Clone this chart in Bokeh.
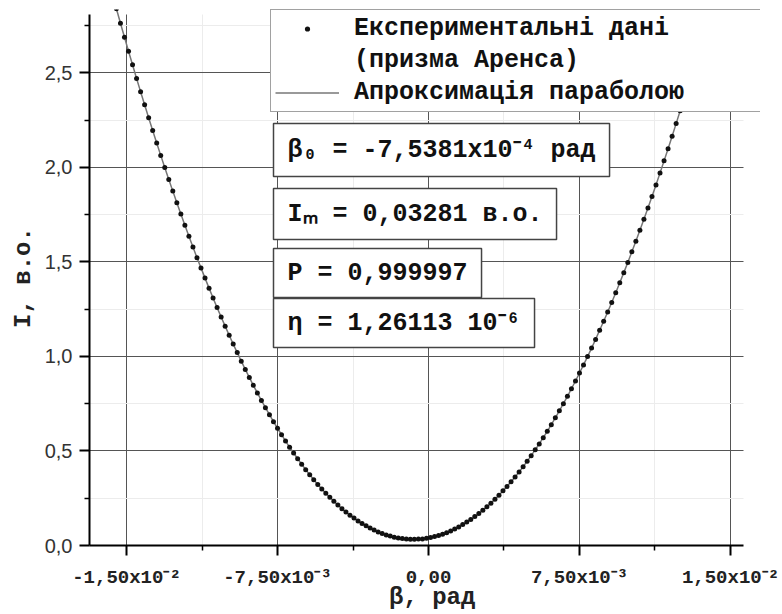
from bokeh.plotting import figure
from bokeh.models import Range1d, FixedTicker, Legend, LegendItem, Label, ColumnDataSource
from bokeh.embed import file_html
from bokeh.resources import INLINE

# ---- data ----
beta = [
    -0.0155, -0.0153, -0.0151, -0.0149, -0.0147, -0.0145, -0.0143, -0.0141, -0.0139, -0.0137,
    -0.0135, -0.0133, -0.0131, -0.0129, -0.0127, -0.0125, -0.0123, -0.0121, -0.0119, -0.0117,
    -0.0115, -0.0113, -0.0111, -0.0109, -0.0107, -0.0105, -0.0103, -0.0101, -0.0099, -0.0097,
    -0.0095, -0.0093, -0.0091, -0.0089, -0.0087, -0.0085, -0.0083, -0.0081, -0.0079, -0.0077,
    -0.0075, -0.0073, -0.0071, -0.0069, -0.0067, -0.0065, -0.0063, -0.0061, -0.0059, -0.0057,
    -0.0055, -0.0053, -0.0051, -0.0049, -0.0047, -0.0045, -0.0043, -0.0041, -0.0039, -0.0037,
    -0.0035, -0.0033, -0.0031, -0.0029, -0.0027, -0.0025, -0.0023, -0.0021, -0.0019, -0.0017,
    -0.0015, -0.0013, -0.0011, -0.0009,
    -0.0007, -0.0005, -0.0003, -0.0001, 0.0001, 0.0003, 0.0005, 0.0007, 0.0009, 0.0011,
    0.0013, 0.0015, 0.0017, 0.0019, 0.0021, 0.0023, 0.0025, 0.0027, 0.0029, 0.0031,
    0.0033, 0.0035, 0.0037, 0.0039, 0.0041, 0.0043, 0.0045, 0.0047, 0.0049, 0.0051,
    0.0053, 0.0055, 0.0057, 0.0059, 0.0061, 0.0063, 0.0065, 0.0067, 0.0069, 0.0071,
    0.0073, 0.0075, 0.0077, 0.0079, 0.0081, 0.0083, 0.0085, 0.0087, 0.0089, 0.0091,
    0.0093, 0.0095, 0.0097, 0.0099, 0.0101, 0.0103, 0.0105, 0.0107, 0.0109, 0.0111,
    0.0113, 0.0115, 0.0117, 0.0119, 0.0121, 0.0123, 0.0125, 0.0127, 0.0129,
]
intensity = [
    2.838, 2.762, 2.688, 2.614, 2.542, 2.470, 2.400, 2.331, 2.262, 2.195,
    2.129, 2.063, 1.999, 1.936, 1.874, 1.813, 1.753, 1.693, 1.635, 1.578,
    1.522, 1.468, 1.414, 1.361, 1.309, 1.258, 1.208, 1.160, 1.112, 1.065,
    1.020, 0.975, 0.931, 0.889, 0.847, 0.807, 0.767, 0.729, 0.692, 0.655,
    0.620, 0.586, 0.552, 0.520, 0.489, 0.459, 0.430, 0.401, 0.374, 0.348,
    0.323, 0.299, 0.276, 0.255, 0.234, 0.214, 0.195, 0.177, 0.160, 0.145,
    0.130, 0.116, 0.104, 0.092, 0.082, 0.072, 0.064, 0.056, 0.050, 0.044,
    0.040, 0.037, 0.034, 0.033,
    0.033, 0.034, 0.035, 0.038, 0.042, 0.047, 0.053, 0.060, 0.068, 0.077,
    0.087, 0.098, 0.111, 0.124, 0.138, 0.153, 0.169, 0.187, 0.205, 0.224,
    0.245, 0.266, 0.289, 0.312, 0.337, 0.362, 0.389, 0.417, 0.445, 0.475,
    0.506, 0.537, 0.570, 0.604, 0.639, 0.675, 0.712, 0.750, 0.789, 0.829,
    0.870, 0.912, 0.955, 0.999, 1.044, 1.090, 1.138, 1.186, 1.235, 1.285,
    1.337, 1.389, 1.443, 1.497, 1.553, 1.609, 1.667, 1.725, 1.785, 1.845,
    1.907, 1.970, 2.034, 2.098, 2.164, 2.231, 2.299, 2.368, 2.438,
]

x_ticks = [-0.015, -0.0075, 0.0, 0.0075, 0.015]
x_minor_ticks = [-0.01125, -0.00375, 0.00375, 0.01125]
x_tick_labels = ["-1,50x10\u207b\u00b2", "-7,50x10\u207b\u00b3", "0,00", "7,50x10\u207b\u00b3", "1,50x10\u207b\u00b2"]
y_ticks = [0.0, 0.5, 1.0, 1.5, 2.0, 2.5]
y_minor_ticks = [0.25, 0.75, 1.25, 1.75, 2.25, 2.75]
y_tick_labels = ["0,0", "0,5", "1,0", "1,5", "2,0", "2,5"]

x_label = "\u00a0\u03b2, рад"
y_label = "I, в.о."
legend_labels = ["Експериментальні дані", "(призма Аренса)", "Апроксимація параболою"]
param_texts = [
    "\u03b2\u2080 = -7,5381x10\u207b\u2074 рад",
    "I\u2098 = 0,03281 в.о.",
    "P = 0,999997",
    "\u03b7 = 1,26113 10\u207b\u2076",
]

# ---- layout ----
# axis extents (where the axis lines end)
AX_XMIN, AX_XMAX = -0.016838, 0.015646
AX_YMIN, AX_YMAX = 0.0, 2.808
# plotting frame (page px): a little larger than the axes so the legend box fits
FRAME_L, FRAME_T, FW, FH = 89, 9, 671, 536
XMIN = AX_XMIN
XMAX = AX_XMIN + FW / 654 * (AX_XMAX - AX_XMIN)
YMIN = AX_YMIN
YMAX = AX_YMAX * FH / 531
param_box_pos = [(273, 123), (273, 188), (273, 248), (273, 298)]
param_vpad = [12, 11, 10, 10]


def px2x(px):
    return XMIN + (px - FRAME_L) / FW * (XMAX - XMIN)


def py2y(py):
    return YMAX - (py - FRAME_T) / FH * (YMAX - YMIN)


p = figure(frame_width=FW, frame_height=FH,
           min_border_left=89, min_border_right=22, min_border_top=9, min_border_bottom=69,
           x_range=Range1d(XMIN, XMAX), y_range=Range1d(YMIN, YMAX),
           output_backend="svg", toolbar_location=None,
           background_fill_color="white", border_fill_color="white")
p.outline_line_color = None

src = ColumnDataSource(dict(beta=beta, intensity=intensity))
fit = p.line("beta", "intensity", source=src, line_color="#777777", line_width=1.5)
pts = p.scatter("beta", "intensity", source=src, size=5, fill_color="#111111", line_color=None)

xt = FixedTicker(ticks=x_ticks, minor_ticks=x_minor_ticks)
yt = FixedTicker(ticks=y_ticks, minor_ticks=y_minor_ticks)
p.xaxis.ticker = xt
p.yaxis.ticker = yt
p.xgrid.ticker = xt
p.ygrid.ticker = yt
p.xaxis.bounds = (AX_XMIN, AX_XMAX)
p.yaxis.bounds = (AX_YMIN, AX_YMAX)
p.xaxis.major_label_overrides = dict(zip(x_ticks, x_tick_labels))
p.yaxis.major_label_overrides = dict(zip(y_ticks, y_tick_labels))

for ax in (p.xaxis[0], p.yaxis[0]):
    ax.axis_line_color = "black"
    ax.axis_line_width = 2
    ax.major_tick_line_color = "black"
    ax.major_tick_line_width = 2
    ax.major_tick_in = 0
    ax.major_tick_out = 10
    ax.minor_tick_line_color = "black"
    ax.minor_tick_line_width = 1.5
    ax.minor_tick_in = 0
    ax.minor_tick_out = 5
    ax.axis_label_text_font = "Liberation Mono"
    ax.axis_label_text_font_style = "bold"
    ax.axis_label_text_font_size = "24px"
    ax.axis_label_text_color = "#222222"

p.xaxis.axis_label = x_label
p.yaxis.axis_label = y_label
p.xaxis.major_label_text_font = "Liberation Mono"
p.xaxis.major_label_text_font_style = "bold"
p.xaxis.major_label_text_font_size = "19px"
p.xaxis.major_label_text_color = "#222222"
p.xaxis.major_label_standoff = 11
p.xaxis.axis_label_standoff = -8
p.yaxis.major_label_text_font = "Liberation Sans"
p.yaxis.major_label_text_font_size = "20px"
p.yaxis.major_label_text_color = "#333333"
p.yaxis.major_label_standoff = 7
p.yaxis.axis_label_standoff = 5

xg, yg = p.xgrid[0], p.ygrid[0]
for g in (xg, yg):
    g.grid_line_color = "#555555"
    g.grid_line_width = 1
    g.minor_grid_line_color = "#ececec"
    g.minor_grid_line_width = 1
if "cross_bounds" in xg.properties():
    xg.cross_bounds = (AX_YMIN, AX_YMAX)
    yg.cross_bounds = (AX_XMIN, AX_XMAX)

legend = Legend(
    items=[LegendItem(label=legend_labels[0], renderers=[pts]),
           LegendItem(label=legend_labels[1], renderers=[]),
           LegendItem(label=legend_labels[2], renderers=[fit])],
    location=(181, 433), orientation="vertical",
    label_text_font="Liberation Mono", label_text_font_style="bold",
    label_text_font_size="25px", label_text_color="#111111",
    glyph_width=64, glyph_height=13, label_standoff=15, label_width=403,
    padding=4, spacing=3, margin=0,
    border_line_color="#444444", border_line_width=1.5,
    background_fill_color="white", background_fill_alpha=1.0,
)
p.add_layout(legend, "center")

for txt, (bx, by), vp in zip(param_texts, param_box_pos, param_vpad):
    p.add_layout(Label(
        x=px2x(bx), y=py2y(by), x_units="data", y_units="data", text=txt,
        text_font="Liberation Mono", text_font_style="bold", text_font_size="25px",
        text_color="#111111", text_align="left", text_baseline="top",
        padding=(14, vp), background_fill_color="white", background_fill_alpha=1.0,
        border_line_color="#444444", border_line_width=1.5,
    ))

open("out.html", "w").write(file_html(p, INLINE))
